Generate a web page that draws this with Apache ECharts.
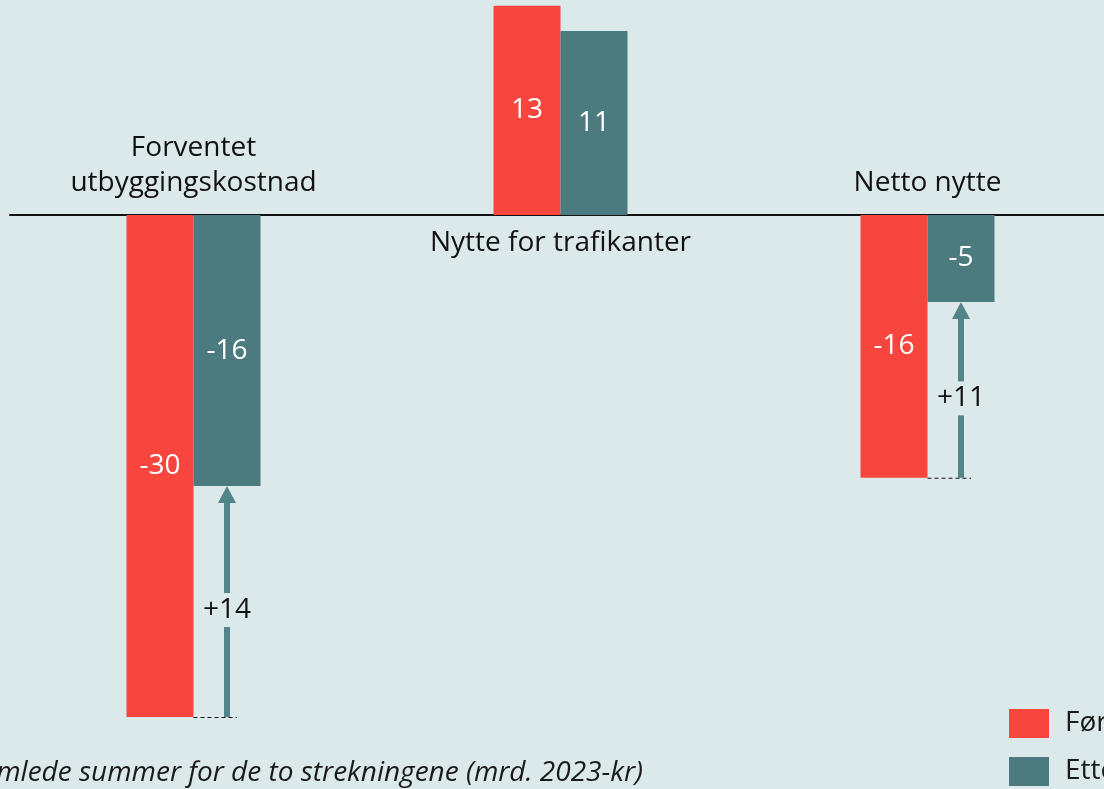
<!DOCTYPE html>
<html>
<head>
<meta charset="utf-8">
<script src="https://cdn.jsdelivr.net/npm/echarts@6/dist/echarts.min.js"></script>
<style>
  html, body { margin: 0; padding: 0; background: #dce9ea; overflow: hidden; }
  /* the plot runs a few pixels past the right edge, as in the original */
  #chart { width: 1111px; height: 789px; }
</style>
</head>
<body>
<div id="chart"></div>
<script>
// data (mrd. 2023-kr)
var categories = ['Forventet\nutbyggingskostnad', 'Nytte for trafikanter', 'Netto nytte'];
var forValues = [-30.0, 12.5, -15.7];   // Før
var etterValues = [-16.2, 11.0, -5.2];  // Etter
var arrowCats = [0, 2];                 // categories with improvement arrows

var RED = '#f8453d';
var TEAL = '#4b7a7f';
var ARROW = '#51858a';
var FONT = '"Open Sans", "Noto Sans", sans-serif';
var FS = 28;
var BAR_W = 67;

var chart = echarts.init(document.getElementById('chart'));

var arrowData = arrowCats.map(function (i) {
  return [i, forValues[i], etterValues[i]];
});
var labelData = categories.map(function (c, i) {
  return [i, forValues[i] < 0 ? -1 : 1];
});

function roundLabel(p) {
  return String(Math.round(p.value));
}

var option = {
  backgroundColor: '#dce9ea',
  animation: false,
  textStyle: { fontFamily: FONT },
  grid: { left: 10, top: 0, right: 0, height: 717, containLabel: false },
  legend: {
    data: ['Før', 'Etter'],
    orient: 'vertical',
    left: 1009,
    top: 709,
    padding: 0,
    itemWidth: 40,
    itemHeight: 29,
    itemGap: 19,
    icon: 'rect',
    textStyle: { fontSize: FS, color: '#1a1a1a', fontFamily: FONT, padding: [0, 0, 0, 11] }
  },
  xAxis: {
    type: 'category',
    data: categories,
    axisLine: { onZero: true, lineStyle: { color: '#111', width: 2 } },
    axisTick: { show: false },
    axisLabel: { show: false }
  },
  yAxis: {
    type: 'value',
    min: -30,
    max: 12.85,
    show: false,
    splitLine: { show: false }
  },
  graphic: [{
    type: 'text',
    style: {
      x: 643, y: 773,
      text: 'Samlede summer for de to strekningene (mrd. 2023-kr)',
      align: 'right', verticalAlign: 'middle',
      font: 'italic ' + FS + 'px ' + FONT,
      fill: '#1a1a1a'
    }
  }],
  series: [
    {
      name: 'Før',
      type: 'bar',
      data: forValues,
      barWidth: BAR_W,
      barGap: '0%',
      itemStyle: { color: RED },
      label: { show: true, position: 'inside', color: '#fff', fontSize: FS, fontFamily: FONT, formatter: roundLabel }
    },
    {
      name: 'Etter',
      type: 'bar',
      data: etterValues,
      barWidth: BAR_W,
      barGap: '0%',
      itemStyle: { color: TEAL },
      label: { show: true, position: 'inside', color: '#fff', fontSize: FS, fontFamily: FONT, formatter: roundLabel }
    },
    {
      // improvement arrows from Før level up to Etter level
      type: 'custom',
      data: arrowData,
      silent: true,
      z: 5,
      renderItem: function (params, api) {
        var cx = api.coord([api.value(0), 0])[0] + BAR_W / 2;
        var yBot = api.coord([api.value(0), api.value(1)])[1];
        var yTop = api.coord([api.value(0), api.value(2)])[1];
        var headH = 17, headW = 18, shaftW = 6, gap = 17;
        var mid = (yTop + headH + yBot) / 2;
        var diff = Math.round(api.value(2) - api.value(1));
        return {
          type: 'group',
          children: [
            { type: 'polygon', shape: { points: [[cx, yTop], [cx - headW / 2, yTop + headH], [cx + headW / 2, yTop + headH]] }, style: { fill: ARROW } },
            { type: 'rect', shape: { x: cx - shaftW / 2, y: yTop + headH - 1, width: shaftW, height: mid - gap - (yTop + headH - 1) }, style: { fill: ARROW } },
            { type: 'rect', shape: { x: cx - shaftW / 2, y: mid + gap, width: shaftW, height: yBot - (mid + gap) }, style: { fill: ARROW } },
            { type: 'line', shape: { x1: cx - BAR_W / 2, y1: yBot + 0.5, x2: cx + 10, y2: yBot + 0.5 }, style: { stroke: '#111', lineWidth: 1, lineDash: [4, 3] } },
            { type: 'text', style: { x: cx, y: mid, text: (diff > 0 ? '+' : '') + diff, align: 'center', verticalAlign: 'middle', font: FS + 'px ' + FONT, fill: '#111' } }
          ]
        };
      }
    },
    {
      // category names: above the axis for negative groups, below for positive
      type: 'custom',
      data: labelData,
      silent: true,
      renderItem: function (params, api) {
        var p = api.coord([api.value(0), 0]);
        var above = api.value(1) < 0;
        return {
          type: 'text',
          style: {
            x: p[0],
            y: above ? p[1] - 14 : p[1] + 11,
            text: categories[params.dataIndex],
            align: 'center',
            verticalAlign: above ? 'bottom' : 'top',
            font: FS + 'px ' + FONT,
            lineHeight: 35,
            fill: '#111'
          }
        };
      }
    }
  ]
};

chart.setOption(option);
</script>
</body>
</html>
